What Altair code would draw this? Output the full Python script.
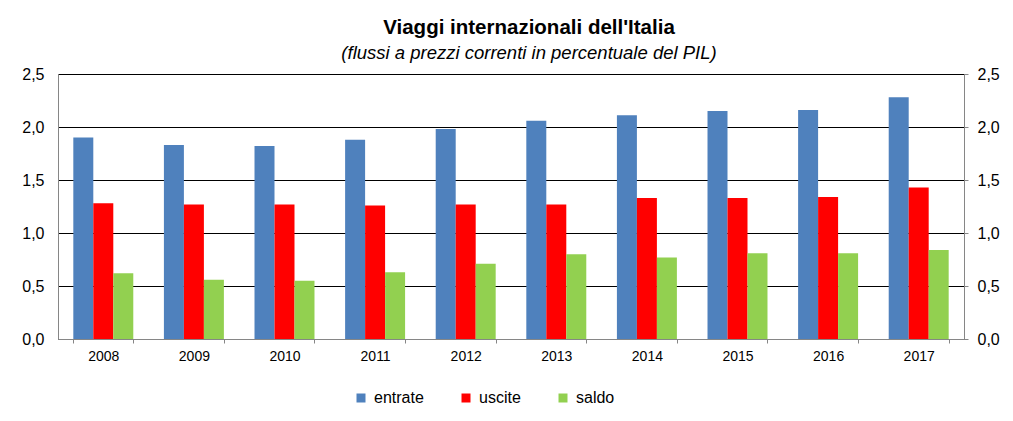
import altair as alt
import pandas as pd

years = ["2008", "2009", "2010", "2011", "2012", "2013", "2014", "2015", "2016", "2017"]
entrate = [1.90, 1.83, 1.82, 1.88, 1.98, 2.06, 2.11, 2.15, 2.16, 2.28]
uscite = [1.28, 1.27, 1.27, 1.26, 1.27, 1.27, 1.33, 1.33, 1.34, 1.43]
saldo = [0.62, 0.56, 0.55, 0.63, 0.71, 0.80, 0.77, 0.81, 0.81, 0.84]
series = ["entrate", "uscite", "saldo"]
colors = ["#4F81BD", "#FF0000", "#92D050"]

rows = []
for i, y in enumerate(years):
    for s, vals in zip(series, [entrate, uscite, saldo]):
        rows.append({"anno": y, "serie": s, "valore": vals[i]})
df = pd.DataFrame(rows)

FONT = "Liberation Sans"
label_expr = "replace(format(datum.value, '.1f'), '.', ',')"

x_enc = alt.X("anno:N", sort=years, title=None,
              scale=alt.Scale(paddingInner=0.338, paddingOuter=0.169),
              axis=alt.Axis(labelAngle=0, labelFont=FONT, labelFontSize=14, labelColor="black",
                            domainColor="#868686", tickColor="#868686", tickSize=4,
                            tickBand="extent", labelPadding=6, zindex=1))
xoff = alt.XOffset("serie:N", sort=series, scale=alt.Scale(paddingInner=0, paddingOuter=0))
color = alt.Color("serie:N", sort=series, scale=alt.Scale(domain=series, range=colors),
                  legend=alt.Legend(title=None, orient="none", direction="horizontal",
                                    legendX=295, legendY=316, symbolType="square",
                                    symbolSize=81, symbolStrokeWidth=0, labelFont=FONT,
                                    labelFontSize=16, labelColor="black", columnPadding=34,
                                    labelOffset=5))

yscale = alt.Scale(domain=[0, 2.5], nice=False)

left = alt.Chart(df).mark_bar().encode(
    x=x_enc, xOffset=xoff, color=color,
    y=alt.Y("valore:Q", scale=yscale, title=None,
            axis=alt.Axis(values=[0, 0.5, 1, 1.5, 2, 2.5], labelExpr=label_expr, labelFont=FONT,
                          labelFontSize=16, labelColor="black", grid=True, gridColor="black",
                          gridWidth=1, domainColor="#868686", ticks=False, labelPadding=14,
                          orient="left")),
)

right = alt.Chart(df).mark_bar(opacity=0).encode(
    x=x_enc, xOffset=xoff,
    y=alt.Y("valore:Q", scale=yscale, title=None,
            axis=alt.Axis(values=[0, 0.5, 1, 1.5, 2, 2.5], labelExpr=label_expr, labelFont=FONT,
                          labelFontSize=16, labelColor="black", grid=False,
                          domainColor="#868686", tickColor="#868686", tickSize=4,
                          labelPadding=9, orient="right")),
)

chart = alt.layer(left, right).resolve_scale(y="independent").properties(
    width=906, height=265,
    title=alt.TitleParams(
        text="Viaggi internazionali dell'Italia",
        subtitle="(flussi a prezzi correnti in percentuale del PIL)",
        font=FONT, fontSize=20.5, fontWeight="bold", color="black",
        subtitleFont=FONT, subtitleFontSize=18.5, subtitleFontStyle="italic",
        subtitleColor="black", anchor="middle", offset=4, subtitlePadding=5, dx=18),
    autosize=alt.AutoSizeParams(type="none"),
    padding={"left": 50, "top": 66, "right": 40, "bottom": 74},
).configure_view(stroke=None).configure(background="white")

chart.save("out.html", embed_options={"renderer": "svg", "actions": False})
